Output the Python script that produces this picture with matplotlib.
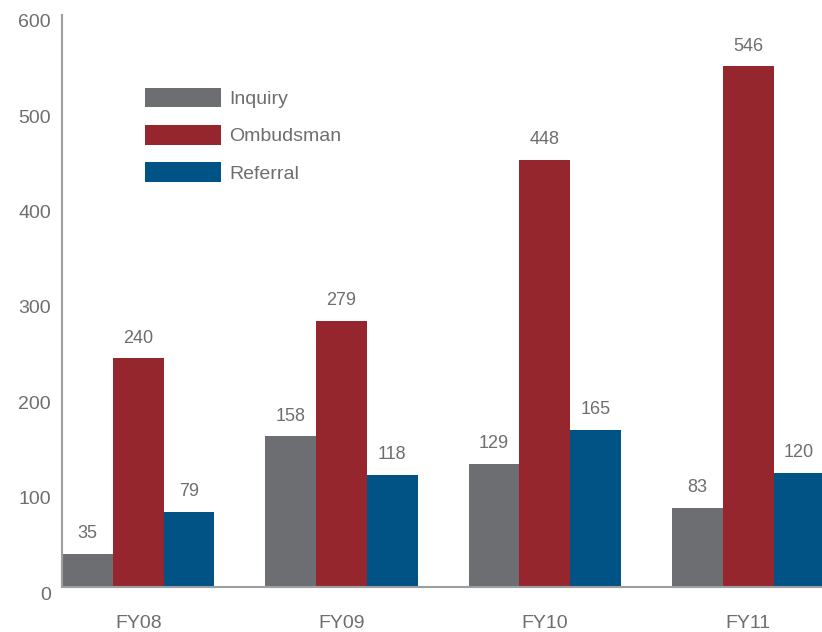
import matplotlib
matplotlib.use("Agg")
import matplotlib.pyplot as plt
import matplotlib.transforms as mtransforms
import numpy as np

categories = ["FY08", "FY09", "FY10", "FY11"]
series_names = ["Inquiry", "Ombudsman", "Referral"]
inquiry = [35, 158, 129, 83]
ombudsman = [240, 279, 448, 546]
referral = [79, 118, 165, 120]
yticks = [0, 100, 200, 300, 400, 500, 600]

colors = ["#6d6e71", "#96262d", "#005384"]
text_color = "#6d6e71"

plt.rcParams['font.family'] = ['Liberation Sans', 'DejaVu Sans']

fig = plt.figure(figsize=(8.22, 6.32), dpi=100)
ax = fig.add_axes([62/822, 1-587/632, (822-62)/822, (587-15)/632])

x = np.arange(len(categories))
width = 0.25
data = [inquiry, ombudsman, referral]
for i, (name, vals, c) in enumerate(zip(series_names, data, colors)):
    pos = x + (i - 1) * width
    ax.bar(pos, vals, width, color=c, label=name)
    for px, v in zip(pos, vals):
        ax.annotate(str(v), (px, v), xytext=(0, 14.5), textcoords="offset points",
                    ha="center", va="center", fontsize=13, color=text_color)

ax.set_xlim(-0.375, 3.363)
ax.set_ylim(0, 600)
ax.set_yticks(yticks)
ax.set_xticks(x)
ax.set_xticklabels(categories)
ax.tick_params(axis="both", length=0, colors=text_color, labelsize=14)
ax.tick_params(axis="y", pad=8)
ax.tick_params(axis="x", pad=20)

offset = mtransforms.ScaledTranslation(0, -6/100, fig.dpi_scale_trans)
for lab in ax.get_yticklabels():
    lab.set_transform(lab.get_transform() + offset)

for s in ["top", "right"]:
    ax.spines[s].set_visible(False)
for s in ["left", "bottom"]:
    ax.spines[s].set_color("#9d9ea1")
    ax.spines[s].set_linewidth(1.5)

leg = ax.legend(loc="upper left", bbox_to_anchor=(0.0858, 0.903), frameon=False,
                handlelength=3.9, handleheight=1.16, handletextpad=0.46,
                labelspacing=0.87, fontsize=14, labelcolor=text_color)

fig.savefig("out.png", dpi=100)
